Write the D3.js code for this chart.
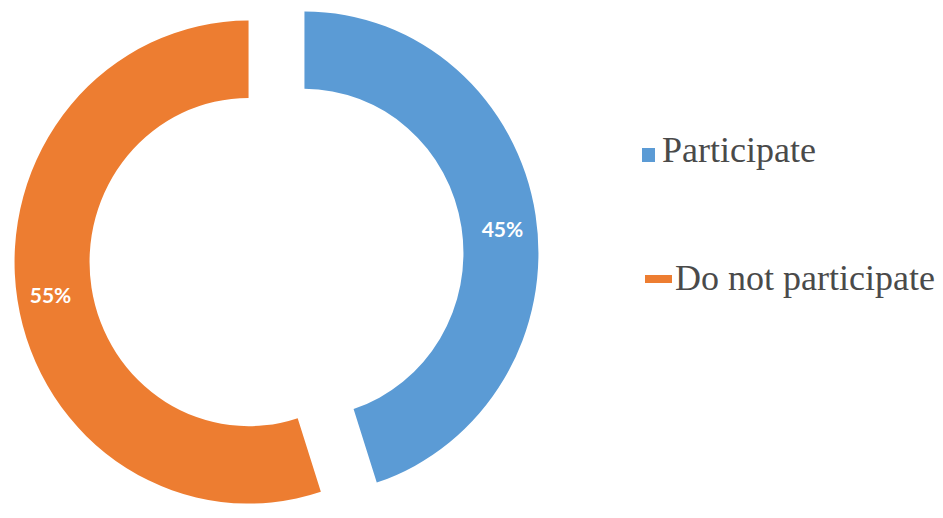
<!DOCTYPE html>
<html>
<head>
<meta charset="utf-8">
<script src="https://cdn.jsdelivr.net/npm/d3@7"></script>
<style>
  html, body { margin: 0; padding: 0; background: #ffffff; }
  svg { display: block; }
</style>
</head>
<body>
<svg id="chart" width="943" height="518"></svg>
<script>
// Share of respondents
const categories = ["Participate", "Do not participate"];
const values = [45, 55];
const valueLabels = ["45%", "55%"];
const colors = ["#5B9BD5", "#ED7D31"];

const svg = d3.select("#chart");

// Ring geometry (slightly taller than wide)
const cx = 276.5, cy = 257.5;
const outerR = 234, innerR = 159;
const yStretch = 1.032;
const explode = 28.3;

const pie = d3.pie().sort(null).value(d => d)(values);
const arc = d3.arc().innerRadius(innerR).outerRadius(outerR);

const g = svg.append("g").attr("transform", `translate(${cx},${cy}) scale(1,${yStretch})`);

function offset(d) {
  const a = (d.startAngle + d.endAngle) / 2;
  return [explode * Math.sin(a), -explode * Math.cos(a)];
}

g.selectAll("path.slice")
  .data(pie)
  .join("path")
  .attr("class", "slice")
  .attr("d", arc)
  .attr("fill", (d, i) => colors[i])
  .attr("transform", d => { const [dx, dy] = offset(d); return `translate(${dx},${dy})`; });

// Percentage labels inside the ring
const labelR = (innerR + outerR) / 2 + 4;
const labelNudgeY = [8, 0];
svg.selectAll("text.pct")
  .data(pie)
  .join("text")
  .attr("class", "pct")
  .attr("x", d => { const a = (d.startAngle + d.endAngle) / 2; return cx + offset(d)[0] + labelR * Math.sin(a); })
  .attr("y", (d, i) => { const a = (d.startAngle + d.endAngle) / 2; return cy + (offset(d)[1] - labelR * Math.cos(a)) * yStretch + labelNudgeY[i]; })
  .attr("text-anchor", "middle")
  .attr("dominant-baseline", "central")
  .attr("font-family", "Lato, 'Open Sans', sans-serif")
  .attr("font-weight", "bold")
  .attr("font-size", 21)
  .attr("fill", "#ffffff")
  .text((d, i) => valueLabels[i]);

// Legend
const legend = svg.append("g");
const legendRows = [
  { y: 162, marker: { x: 642, w: 13, h: 14 } },
  { y: 290, marker: { x: 645, w: 27, h: 8 } }
];
const legendText = [662, 675];

categories.forEach((c, i) => {
  const row = legendRows[i];
  const m = row.marker;
  legend.append("rect")
    .attr("x", m.x)
    .attr("y", i === 0 ? row.y - m.h : row.y - 15)
    .attr("width", m.w)
    .attr("height", m.h)
    .attr("fill", colors[i]);
  legend.append("text")
    .attr("x", legendText[i])
    .attr("y", row.y)
    .attr("font-family", "'Liberation Serif', 'Times New Roman', serif")
    .attr("font-size", 36)
    .attr("fill", "#4a4a4a")
    .text(c);
});
</script>
</body>
</html>
